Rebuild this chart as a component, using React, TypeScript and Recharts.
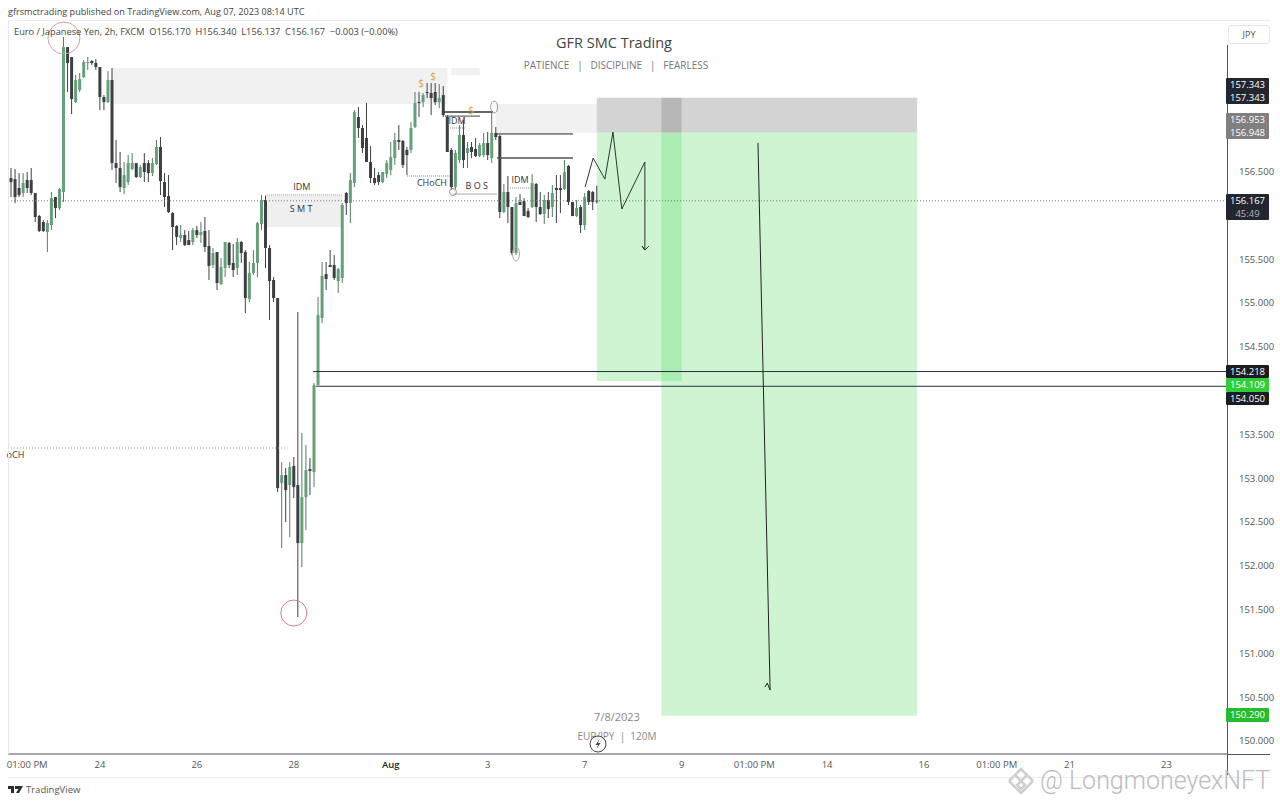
import React from 'react';
import { ComposedChart, Bar, Line, XAxis, YAxis, ReferenceArea, ReferenceLine, ReferenceDot } from 'recharts';

const opens = [156.427,156.415,156.313,156.256,156.404,156.404,156.256,155.993,155.925,155.811,155.890,156.210,156.084,156.267,157.922,157.808,157.294,157.432,157.580,157.740,157.763,157.740,157.694,157.352,157.294,157.546,156.598,156.541,156.313,156.381,156.530,156.598,156.438,156.598,156.598,156.484,156.587,156.781,156.381,156.221,156.027,155.879,155.742,155.776,155.719,155.697,155.833,155.776,155.822,155.651,155.434,155.582,155.217,155.400,155.685,155.457,155.400,155.697,155.582,155.046,155.343,155.457,155.902,156.176,155.628,155.263,155.057,152.945,153.036,152.922,153.139,152.922,152.260,152.785,153.105,153.070,154.063,154.828,155.331,155.434,155.434,155.251,155.286,156.256,156.141,156.370,157.123,156.998,156.884,156.610,156.427,156.461,156.381,156.472,156.518,156.655,156.861,156.850,156.747,156.747,157.009,157.294,157.294,157.409,157.397,157.409,157.294,157.374,157.123,156.747,156.324,156.632,156.918,156.712,156.781,156.758,156.678,156.689,156.827,156.655,156.941,156.907,156.039,156.267,156.096,155.571,156.153,156.164,156.050,156.096,156.358,156.096,156.016,156.176,156.096,156.313,156.313,156.301,156.564,156.153,155.993,156.096,155.890,156.279,156.267,156.170];
const highs = [156.541,156.530,156.484,156.484,156.495,156.541,156.256,156.005,155.947,155.947,156.267,156.210,156.313,158.037,157.922,157.808,157.603,157.626,157.774,157.808,157.774,157.785,157.694,157.374,157.648,157.683,156.861,156.724,156.610,156.689,156.712,156.598,156.575,156.712,156.632,156.655,156.861,156.895,156.484,156.461,156.039,155.890,155.890,155.833,155.822,155.856,155.879,155.925,155.982,155.833,155.628,155.582,155.514,155.697,155.697,155.674,155.742,155.708,155.605,155.468,155.605,155.925,156.233,156.233,155.662,155.297,155.057,153.184,153.116,153.184,153.241,154.897,153.515,153.379,153.230,154.086,155.069,155.468,155.468,155.605,155.548,155.400,156.141,156.267,156.484,157.203,157.237,157.032,157.283,156.792,156.541,156.495,156.495,156.632,156.838,156.941,157.032,156.861,156.781,157.066,157.409,157.409,157.397,157.511,157.511,157.511,157.500,157.477,157.146,156.769,156.747,157.032,157.089,156.838,156.838,156.884,156.827,156.941,156.952,157.169,157.009,156.918,156.358,156.450,156.096,156.210,156.244,156.198,156.084,156.472,156.370,156.267,156.233,156.267,156.347,156.461,156.461,156.632,156.575,156.153,156.176,156.119,156.256,156.290,156.279,156.340];
const lows = [156.210,156.141,156.210,156.210,156.256,156.233,155.925,155.811,155.811,155.582,155.833,155.970,156.062,156.153,157.409,157.157,157.283,157.409,157.569,157.660,157.717,157.660,157.203,157.203,157.283,156.518,156.370,156.267,156.244,156.347,156.518,156.427,156.427,156.381,156.381,156.450,156.575,156.233,156.096,156.027,155.605,155.662,155.697,155.651,155.662,155.662,155.742,155.685,155.582,155.263,155.400,155.148,155.206,155.297,155.400,155.297,155.320,155.457,154.885,155.011,155.320,155.297,155.833,155.400,154.805,155.011,152.842,152.203,152.499,152.328,152.773,151.415,151.986,152.408,152.808,152.899,154.063,154.771,155.148,155.411,155.263,155.114,155.229,156.005,155.913,156.324,156.884,156.712,156.610,156.370,156.347,156.347,156.370,156.427,156.461,156.575,156.747,156.541,156.461,156.712,156.998,157.123,157.237,157.340,157.146,157.260,157.226,157.123,156.724,156.290,156.290,156.598,156.541,156.541,156.655,156.666,156.666,156.666,156.632,156.598,156.861,155.970,156.027,155.913,155.548,155.548,156.119,155.993,155.970,156.084,155.925,156.005,155.902,155.970,155.982,155.913,156.027,156.290,156.119,155.993,155.982,155.799,155.833,156.119,156.062,156.137];
const closes = [156.381,156.210,156.233,156.370,156.313,156.256,155.982,155.822,155.822,155.913,156.198,156.084,156.301,157.922,157.740,157.329,157.546,157.557,157.751,157.751,157.740,157.694,157.352,157.294,157.546,156.598,156.541,156.324,156.461,156.598,156.598,156.438,156.552,156.495,156.484,156.598,156.781,156.393,156.210,156.039,155.868,155.754,155.776,155.662,155.662,155.833,155.776,155.811,155.639,155.423,155.571,155.229,155.411,155.697,155.434,155.377,155.697,155.571,155.057,155.343,155.457,155.913,156.176,155.628,155.251,155.057,152.888,153.036,152.865,153.127,152.899,152.260,152.785,153.093,153.082,154.063,154.862,155.309,155.274,155.411,155.286,155.388,156.119,156.141,156.404,157.180,156.998,156.769,156.610,156.427,156.370,156.381,156.495,156.598,156.666,156.861,156.838,156.575,156.689,156.998,157.283,157.283,157.374,157.397,157.340,157.294,157.340,157.146,156.724,156.324,156.712,156.918,156.632,156.769,156.724,156.678,156.804,156.827,156.689,156.941,156.895,156.039,156.267,156.096,155.571,156.141,156.119,155.993,155.982,156.370,156.096,156.016,156.176,156.073,156.256,156.290,156.290,156.495,156.153,155.993,156.084,155.890,156.210,156.153,156.153,156.167];

const xTickPositions = [4, 22, 46, 70, 94, 118, 142, 166, 184, 202, 226, 244, 262, 286];
const xTickLabels = ['01:00 PM', '24', '26', '28', 'Aug', '3', '7', '9', '01:00 PM', '14', '16', '01:00 PM', '21', '23'];
const yTickValues = [156.5, 155.5, 155, 154.5, 153.5, 153, 152.5, 152, 151.5, 151, 150.5, 150];

const X_DOMAIN = [-0.75, 301];
const Y_DOMAIN = [149.852, 158.231];

const candleRows = opens.map((o, k) => ({
  i: k, open: o, high: highs[k], low: lows[k], close: closes[k], range: [lows[k], highs[k]],
}));

const zones = [
  { x1: 25, x2: 108, y1: 157.272, y2: 157.683, fill: '#f1f1f1', op: 1 },
  { x1: 109, x2: 116, y1: 157.6, y2: 157.683, fill: '#f1f1f1', op: 1 },
  { x1: 63, x2: 82, y1: 155.868, y2: 156.233, fill: '#efefef', op: 1 },
  { x1: 120, x2: 145, y1: 156.941, y2: 157.272, fill: '#f1f1f1', op: 1 },
  { x1: 145, x2: 166, y1: 156.948, y2: 157.343, fill: '#848488', op: 0.36 },
  { x1: 145, x2: 166, y1: 154.109, y2: 156.948, fill: '#4ad85a', op: 0.27 },
  { x1: 161, x2: 224.3, y1: 156.948, y2: 157.343, fill: '#848488', op: 0.36 },
  { x1: 161, x2: 224.3, y1: 150.29, y2: 156.948, fill: '#4ad85a', op: 0.27 },
];

const levels = [
  { a: 74.75, b: 301, p: 154.218, c: '#2a2e39', w: 1, d: undefined },
  { a: 75.5, b: 301, p: 154.05, c: '#2a2e39', w: 1, d: undefined },
  { a: -0.75, b: 67.8, p: 153.345, c: '#999', w: 1, d: '1 2' },
  { a: 62.9, b: 82.2, p: 156.233, c: '#cfcfcf', w: 2, d: '1 1' },
  { a: 107.2, b: 119.3, p: 157.18, c: '#333', w: 1.5, d: undefined },
  { a: 107.4, b: 116.1, p: 157.134, c: '#444', w: 1, d: undefined },
  { a: 120.3, b: 139.1, p: 156.93, c: '#222', w: 1, d: undefined },
  { a: 120.3, b: 139.1, p: 156.655, c: '#555', w: 1.4, d: undefined },
  { a: 98, b: 108.7, p: 156.45, c: '#888', w: 1, d: '1 1' },
  { a: 109.4, b: 120.3, p: 156.244, c: '#aaa', w: 1, d: undefined },
  { a: 123.5, b: 129.7, p: 156.313, c: '#888', w: 1, d: '1 1' },
  { a: 108.7, b: 112.4, p: 156.998, c: '#888', w: 1, d: '1 1' },
];

const notes = [
  { i: 72, p: 156.324, t: 'IDM', c: '#333', s: 9 },
  { i: 71.8, p: 156.073, t: 'S M T', c: '#333', s: 9 },
  { i: 104.2, p: 156.37, t: 'CHoCH', c: '#333', s: 9 },
  { i: 115.3, p: 156.335, t: 'B O S', c: '#333', s: 9 },
  { i: 110.4, p: 157.078, t: 'IDM', c: '#333', s: 9 },
  { i: 126, p: 156.404, t: 'IDM', c: '#333', s: 9 },
  { i: 101.5, p: 157.511, t: '$', c: '#dba35e', s: 10 },
  { i: 104.5, p: 157.591, t: '$', c: '#dba35e', s: 10 },
  { i: 113.9, p: 157.203, t: '$', c: '#dba35e', s: 10 },
  { i: 1.1, p: 153.265, t: 'oCH', c: '#333', s: 9 },
];

const rings = [
  { i: 13.1, p: 158.025, rx: 16, ry: 16, c: '#c9a3a1' },
  { i: 70, p: 151.461, rx: 13, ry: 13, c: '#d67f7f' },
  { i: 109.4, p: 156.267, rx: 3.5, ry: 3.5, c: '#999' },
  { i: 119.6, p: 157.237, rx: 3.5, ry: 6, c: '#999' },
  { i: 125, p: 155.56, rx: 3.5, ry: 7, c: '#aaa' },
];

const zigzagIdx = [142.1, 144.1, 147, 149, 151.2, 156.9, 156.9, 156.2, 156.9, 157.9];
const zigzagPrice = [156.324, 156.655, 156.415, 156.952, 156.073, 156.61, 155.605, 155.651, 155.605, 155.651];
const dropIdx = [184.9, 187.9, 187.2, 186.6];
const dropPrice = [156.827, 150.582, 150.662, 150.616];

const zigzagRows = zigzagIdx.map((i, k) => ({ i, p: zigzagPrice[k] }));
const dropRows = dropIdx.map((i, k) => ({ i, p: dropPrice[k] }));

const DARK = '#3d4043';
const GREEN = '#66a078';
const FONT = '"Open Sans", sans-serif';

function Candle(props: any) {
  const { x, y, width, height, payload } = props;
  const h = Math.abs(height);
  const top = Math.min(y, y + height);
  const unit = h / (payload.high - payload.low || 1);
  const bodyHi = Math.max(payload.open, payload.close);
  const bodyLo = Math.min(payload.open, payload.close);
  const bodyY = top + (payload.high - bodyHi) * unit;
  const bodyH = Math.max(1, (bodyHi - bodyLo) * unit);
  const color = payload.close >= payload.open ? GREEN : DARK;
  const cx = x + width / 2;
  return (
    <g>
      <line x1={cx} x2={cx} y1={top} y2={top + h} stroke={color === GREEN ? '#4f7f5f' : DARK} strokeWidth={1} />
      <rect x={cx - 1.5} y={bodyY} width={3} height={bodyH} fill={color} />
    </g>
  );
}

function XTick(props: any) {
  const { x, y, payload } = props;
  const label = xTickLabels[xTickPositions.indexOf(payload.value)];
  const bold = label === 'Aug';
  return (
    <text x={x} y={y + 6} textAnchor="middle" fontFamily={FONT} fontSize={9.5} fill={bold ? '#222' : '#555'} fontWeight={bold ? 600 : 400}>
      {label}
    </text>
  );
}

function T({ x, y, s = 9.5, c = '#444', children, center, w, ls }: any) {
  return (
    <div style={{
      position: 'absolute', left: center ? x - 200 : x, top: y, width: center ? 400 : w, lineHeight: '12px',
      fontFamily: FONT, fontSize: s, color: c, whiteSpace: 'pre', textAlign: center ? 'center' : 'left', letterSpacing: ls,
    }}>{children}</div>
  );
}

function Tag({ top, h = 13, bg, lines, sub }: any) {
  return (
    <div style={{
      position: 'absolute', left: 1226, width: 43, top, height: h, background: bg, color: '#fff', fontFamily: FONT,
      fontSize: 9.5, lineHeight: '13px', textAlign: 'center', borderRadius: 1,
    }}>
      {lines.map((l: string, k: number) => (
        <div key={k} style={{ color: sub && k === 1 ? '#b5b8bf' : '#fff' }}>{l}</div>
      ))}
    </div>
  );
}

export default function App() {
  return (
    <div style={{ position: 'absolute', left: 0, top: 0, width: 1280, height: 804, background: '#fff', overflow: 'hidden' }}>
      <ComposedChart width={1280} height={804} data={candleRows} margin={{ top: 20, right: 0, bottom: 28, left: 8 }}>
        <XAxis dataKey="i" type="number" domain={X_DOMAIN} ticks={xTickPositions} interval={0} height={22} tick={<XTick />} tickLine={false} axisLine={{ stroke: '#50535e' }} allowDataOverflow />
        <YAxis type="number" orientation="right" domain={Y_DOMAIN} ticks={yTickValues} interval={0} width={53} tickLine={false} axisLine={false} tickMargin={6} allowDataOverflow
          tickFormatter={(v: number) => v.toFixed(3)} tick={{ fontFamily: FONT, fontSize: 9.5, fill: '#555', textAnchor: 'start' }} />
        {zones.map((z, k) => (
          <ReferenceArea key={k} x1={z.x1} x2={z.x2} y1={z.y1} y2={z.y2} fill={z.fill} fillOpacity={z.op} stroke="none" />
        ))}
        <ReferenceLine y={156.167} stroke="#777" strokeDasharray="1 2" />
        {levels.map((l, k) => (
          <ReferenceLine key={k} segment={[{ x: l.a, y: l.p }, { x: l.b, y: l.p }]} stroke={l.c} strokeWidth={l.w} strokeDasharray={l.d} />
        ))}
        <Bar dataKey="range" barSize={3} shape={<Candle />} isAnimationActive={false} />
        <Line data={zigzagRows} dataKey="p" type="linear" stroke="#333" strokeWidth={1} dot={false} isAnimationActive={false} />
        <Line data={dropRows} dataKey="p" type="linear" stroke="#222" strokeWidth={1} dot={false} isAnimationActive={false} />
        {rings.map((r, k) => (
          <ReferenceDot key={k} x={r.i} y={r.p} r={r.rx} shape={(p: any) => (
            <ellipse cx={p.cx} cy={p.cy} rx={r.rx} ry={r.ry} fill="none" stroke={r.c} strokeWidth={1} />
          )} />
        ))}
        {notes.map((n, k) => (
          <ReferenceDot key={k} x={n.i} y={n.p} r={0} fill="none" stroke="none"
            label={{ value: n.t, position: 'center', fill: n.c, fontSize: n.s, fontFamily: FONT }} />
        ))}
      </ComposedChart>

      {/* frame lines */}
      <div style={{ position: 'absolute', left: 8, top: 20, width: 1262, height: 1, background: '#eceef2' }} />
      <div style={{ position: 'absolute', left: 8, top: 20, width: 1, height: 734, background: '#e6e8ee' }} />
      <div style={{ position: 'absolute', left: 8, top: 777, width: 1262, height: 1, background: '#eceef2' }} />
      <div style={{ position: 'absolute', left: 1227, top: 45, width: 1, height: 730, background: '#50535e' }} />
      <div style={{ position: 'absolute', left: 1227, top: 754, width: 43, height: 1, background: '#50535e' }} />

      <T x={8} y={6} s={9.1} c="#444">gfrsmctrading published on TradingView.com, Aug 07, 2023 08:14 UTC</T>
      <T x={14} y={26} s={9.25} c="#444">Euro / Japanese Yen, 2h, FXCM  O156.170  H156.340  L156.137  C156.167  −0.003 (−0.00%)</T>
      <T x={614} y={37} s={14.5} c="#444" center>GFR SMC Trading</T>
      <T x={616} y={59} s={10} c="#777" center>PATIENCE   |   DISCIPLINE   |   FEARLESS</T>
      <T x={617} y={711} s={11} c="#888" center>7/8/2023</T>
      <T x={617} y={730} s={10} c="#888" center>EUR/JPY  |  120M</T>

      <div style={{ position: 'absolute', left: 1228, top: 25, width: 40, height: 17, border: '1px solid #e4e6ea', borderRadius: 3, textAlign: 'center', fontFamily: FONT, fontSize: 9, lineHeight: '17px', color: '#555' }}>JPY</div>

      <Tag top={78} h={26} bg="#22262e" lines={['157.343', '157.343']} />
      <Tag top={113} h={26} bg="#808080" lines={['156.953', '156.948']} />
      <Tag top={194} h={26} bg="#22262e" lines={['156.167', '45:49']} sub />
      <Tag top={365} bg="#1a1d24" lines={['154.218']} />
      <Tag top={378} h={14} bg="#2fcf38" lines={['154.109']} />
      <Tag top={392} bg="#1a1d24" lines={['154.050']} />
      <Tag top={708} h={14} bg="#25bd2e" lines={['150.290']} />

      {/* lightning badge */}
      <svg style={{ position: 'absolute', left: 589, top: 735 }} width={18} height={18}>
        <circle cx={9} cy={9} r={8} fill="#fff" fillOpacity={0.6} stroke="#444" strokeWidth={1} />
        <path d="M10.5 4 L6.5 10 L9 10 L7.5 14 L11.5 8 L9 8 Z" fill="#444" />
      </svg>

      {/* brand footer */}
      <svg style={{ position: 'absolute', left: 8, top: 785 }} width={16} height={10}>
        <path d="M0 1 H6 V8 H3 V4 H0 Z M7 1 H15 L11 8 H8 L10.5 4 H7 Z" fill="#2a2e39" />
      </svg>
      <T x={26} y={784} s={9.5} c="#555">TradingView</T>

      {/* watermark */}
      <svg style={{ position: 'absolute', left: 1006, top: 767 }} width={30} height={28}>
        <g fill="none" stroke="#cfcfcf" strokeWidth={2.5}>
          <path d="M15 2 L21 8 L15 14 L9 8 Z" />
          <path d="M3 14 L8 9 M27 14 L22 9 M3 14 L15 26 L27 14" />
          <path d="M15 14 L19 18 L15 22 L11 18 Z" />
        </g>
      </svg>
      <div style={{ position: 'absolute', left: 1040, top: 771, fontFamily: 'Roboto, sans-serif', fontWeight: 300, fontSize: 25, lineHeight: '20px', color: '#bcbcbc', whiteSpace: 'pre' }}>@ LongmoneyexNFT</div>
    </div>
  );
}
